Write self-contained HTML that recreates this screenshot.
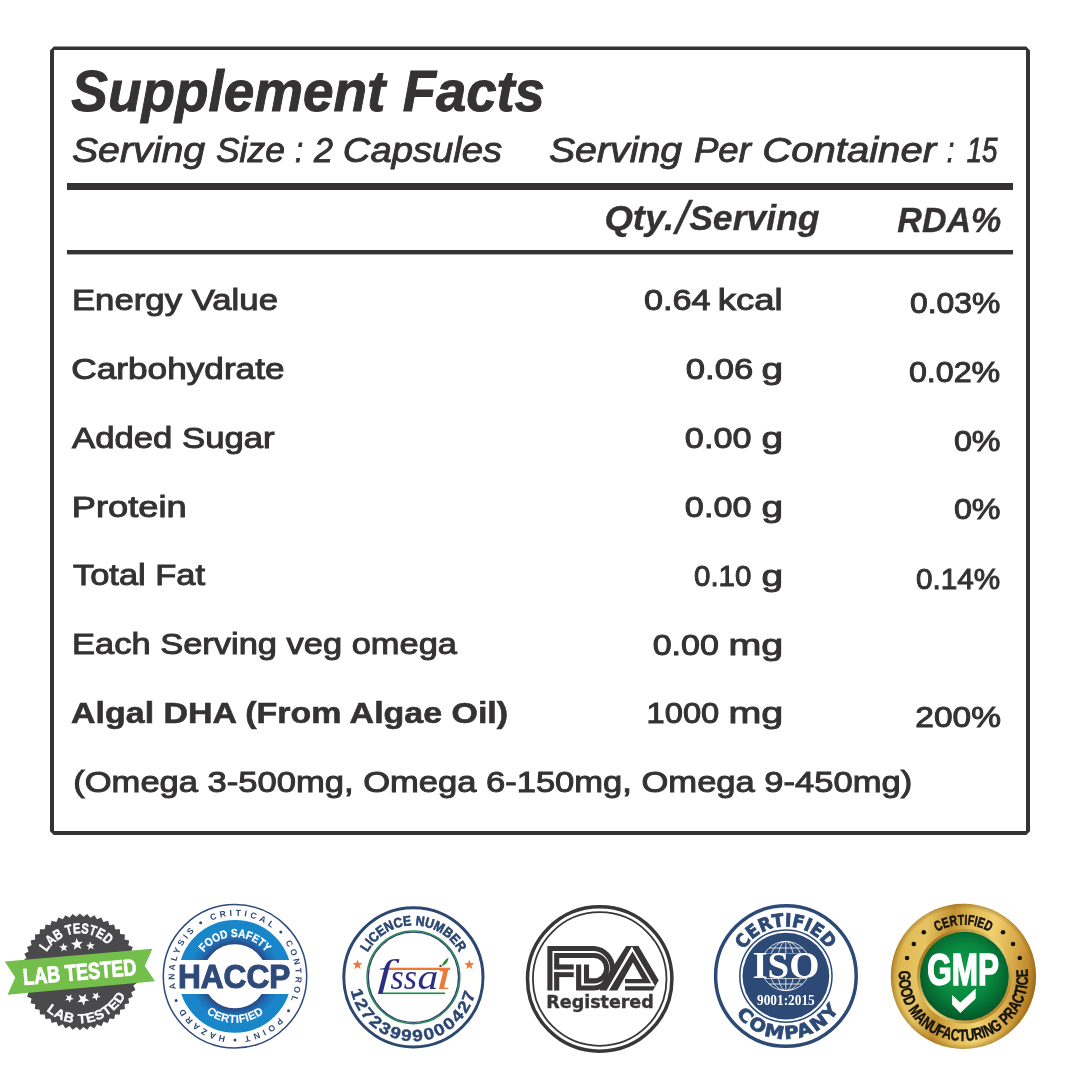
<!DOCTYPE html>
<html lang="en"><head><meta charset="utf-8"><title>Supplement Facts</title>
<style>
html,body{margin:0;padding:0;background:#fff;}
body{width:1080px;height:1080px;overflow:hidden;font-family:"Liberation Sans",sans-serif;}
svg{display:block;}
text{white-space:pre;}
</style></head><body>
<svg width="1080" height="1080" viewBox="0 0 1080 1080">
<rect width="1080" height="1080" fill="#ffffff"/>

<g id="panel">
<path fill-rule="evenodd" fill="#343233" d="M53.8,46.6 H1026.2 L1030,50.4 V831.2 L1026.2,835 H53.8 L50,831.2 V50.4 Z M54,50.1 V831 H1026 V50.1 Z"/>
<rect x="67" y="183" width="946" height="7" fill="#343233"/>
<rect x="67" y="250" width="946" height="4.4" fill="#343233"/>
<text transform="translate(71.30 111.30) scale(0.9626 1.0000)" font-family='"Liberation Sans", sans-serif' font-size="57" font-weight="bold" font-style="italic" fill="#343233" stroke="#343233" stroke-width="1.0">Supplement</text>
<text transform="translate(402.80 111.30) scale(0.9538 1.0000)" font-family='"Liberation Sans", sans-serif' font-size="57" font-weight="bold" font-style="italic" fill="#343233" stroke="#343233" stroke-width="1.0">Facts</text>
<text transform="translate(71.88 162.00) scale(1.1229 1.0000)" font-family='"Liberation Sans", sans-serif' font-size="35" font-weight="normal" font-style="italic" fill="#343233" stroke="#343233" stroke-width="0.9">Serving</text>
<text transform="translate(215.99 162.00) scale(1.0114 1.0000)" font-family='"Liberation Sans", sans-serif' font-size="35" font-weight="normal" font-style="italic" fill="#343233" stroke="#343233" stroke-width="0.9">Size</text>
<text transform="translate(294.91 162.00) scale(0.8438 1.0000)" font-family='"Liberation Sans", sans-serif' font-size="35" font-weight="normal" font-style="italic" fill="#343233" stroke="#343233" stroke-width="0.9">:</text>
<text transform="translate(313.98 162.00) scale(0.9750 1.0000)" font-family='"Liberation Sans", sans-serif' font-size="35" font-weight="normal" font-style="italic" fill="#343233" stroke="#343233" stroke-width="0.9">2</text>
<text transform="translate(342.82 162.00) scale(1.0924 1.0000)" font-family='"Liberation Sans", sans-serif' font-size="35" font-weight="normal" font-style="italic" fill="#343233" stroke="#343233" stroke-width="0.9">Capsules</text>
<text transform="translate(548.88 162.00) scale(1.1229 1.0000)" font-family='"Liberation Sans", sans-serif' font-size="35" font-weight="normal" font-style="italic" fill="#343233" stroke="#343233" stroke-width="0.9">Serving</text>
<text transform="translate(693.95 162.00) scale(1.0455 1.0000)" font-family='"Liberation Sans", sans-serif' font-size="35" font-weight="normal" font-style="italic" fill="#343233" stroke="#343233" stroke-width="0.9">Per</text>
<text transform="translate(762.21 162.00) scale(1.1457 1.0000)" font-family='"Liberation Sans", sans-serif' font-size="35" font-weight="normal" font-style="italic" fill="#343233" stroke="#343233" stroke-width="0.9">Container</text>
<text transform="translate(946.72 162.00) scale(0.7812 1.0000)" font-family='"Liberation Sans", sans-serif' font-size="35" font-weight="normal" font-style="italic" fill="#343233" stroke="#343233" stroke-width="0.9">:</text>
<text transform="translate(966.71 162.00) scale(0.7921 1.0000)" font-family='"Liberation Sans", sans-serif' font-size="35" font-weight="normal" font-style="italic" fill="#343233" stroke="#343233" stroke-width="0.9">15</text>
<text transform="translate(897.30 231.60) scale(0.9726 1.0000)" font-family='"Liberation Sans", sans-serif' font-size="35" font-weight="bold" font-style="italic" fill="#343233" stroke="#343233" stroke-width="0.3">RDA%</text>
<text transform="translate(71.93 310.00) scale(1.1586 1.0000)" font-family='"Liberation Sans", sans-serif' font-size="30" font-weight="normal" font-style="normal" fill="#343233" stroke="#343233" stroke-width="1.0">Energy Value</text>
<text transform="translate(71.33 379.00) scale(1.1736 1.0000)" font-family='"Liberation Sans", sans-serif' font-size="30" font-weight="normal" font-style="normal" fill="#343233" stroke="#343233" stroke-width="1.0">Carbohydrate</text>
<text transform="translate(72.00 448.00) scale(1.1571 1.0000)" font-family='"Liberation Sans", sans-serif' font-size="30" font-weight="normal" font-style="normal" fill="#343233" stroke="#343233" stroke-width="1.0">Added Sugar</text>
<text transform="translate(71.83 516.50) scale(1.2088 1.0000)" font-family='"Liberation Sans", sans-serif' font-size="30" font-weight="normal" font-style="normal" fill="#343233" stroke="#343233" stroke-width="1.0">Protein</text>
<text transform="translate(73.00 585.00) scale(1.1478 1.0000)" font-family='"Liberation Sans", sans-serif' font-size="30" font-weight="normal" font-style="normal" fill="#343233" stroke="#343233" stroke-width="1.0">Total Fat</text>
<text transform="translate(72.10 654.00) scale(1.1485 1.0000)" font-family='"Liberation Sans", sans-serif' font-size="30" font-weight="normal" font-style="normal" fill="#343233" stroke="#343233" stroke-width="1.0">Each Serving veg omega</text>
<text transform="translate(71.07 722.50) scale(1.1323 1.0000)" font-family='"Liberation Sans", sans-serif' font-size="30" font-weight="bold" font-style="normal" fill="#343233" stroke="#343233" stroke-width="0.6">Algal DHA (From Algae Oil)</text>
<text transform="translate(73.25 791.50) scale(1.1518 1.0000)" font-family='"Liberation Sans", sans-serif' font-size="30" font-weight="normal" font-style="normal" fill="#343233" stroke="#343233" stroke-width="1.0">(Omega 3-500mg, Omega 6-150mg, Omega 9-450mg)</text>
<text transform="translate(644.06 310.00) scale(1.1404 1.0000)" font-family='"Liberation Sans", sans-serif' font-size="30" font-weight="normal" font-style="normal" fill="#343233" stroke="#343233" stroke-width="1.0">0.64</text>
<text transform="translate(717.87 310.00) scale(1.2140 1.0000)" font-family='"Liberation Sans", sans-serif' font-size="30" font-weight="normal" font-style="normal" fill="#343233" stroke="#343233" stroke-width="1.0">kcal</text>
<text transform="translate(685.85 379.00) scale(1.1544 1.0000)" font-family='"Liberation Sans", sans-serif' font-size="30" font-weight="normal" font-style="normal" fill="#343233" stroke="#343233" stroke-width="1.0">0.06</text>
<text transform="translate(761.61 379.00) scale(1.2929 1.0000)" font-family='"Liberation Sans", sans-serif' font-size="30" font-weight="normal" font-style="normal" fill="#343233" stroke="#343233" stroke-width="1.0">g</text>
<text transform="translate(684.86 448.00) scale(1.1404 1.0000)" font-family='"Liberation Sans", sans-serif' font-size="30" font-weight="normal" font-style="normal" fill="#343233" stroke="#343233" stroke-width="1.0">0.00</text>
<text transform="translate(761.61 448.00) scale(1.2929 1.0000)" font-family='"Liberation Sans", sans-serif' font-size="30" font-weight="normal" font-style="normal" fill="#343233" stroke="#343233" stroke-width="1.0">g</text>
<text transform="translate(684.86 516.50) scale(1.1404 1.0000)" font-family='"Liberation Sans", sans-serif' font-size="30" font-weight="normal" font-style="normal" fill="#343233" stroke="#343233" stroke-width="1.0">0.00</text>
<text transform="translate(761.61 516.50) scale(1.2929 1.0000)" font-family='"Liberation Sans", sans-serif' font-size="30" font-weight="normal" font-style="normal" fill="#343233" stroke="#343233" stroke-width="1.0">g</text>
<text transform="translate(694.02 585.50) scale(0.9825 1.0000)" font-family='"Liberation Sans", sans-serif' font-size="30" font-weight="normal" font-style="normal" fill="#343233" stroke="#343233" stroke-width="1.0">0.10</text>
<text transform="translate(761.61 585.50) scale(1.2929 1.0000)" font-family='"Liberation Sans", sans-serif' font-size="30" font-weight="normal" font-style="normal" fill="#343233" stroke="#343233" stroke-width="1.0">g</text>
<text transform="translate(652.66 654.50) scale(1.1351 1.0000)" font-family='"Liberation Sans", sans-serif' font-size="30" font-weight="normal" font-style="normal" fill="#343233" stroke="#343233" stroke-width="1.0">0.00</text>
<text transform="translate(728.47 654.50) scale(1.3132 1.0000)" font-family='"Liberation Sans", sans-serif' font-size="30" font-weight="normal" font-style="normal" fill="#343233" stroke="#343233" stroke-width="1.0">mg</text>
<text transform="translate(646.62 723.00) scale(1.0891 1.0000)" font-family='"Liberation Sans", sans-serif' font-size="30" font-weight="normal" font-style="normal" fill="#343233" stroke="#343233" stroke-width="1.0">1000</text>
<text transform="translate(728.47 723.00) scale(1.3132 1.0000)" font-family='"Liberation Sans", sans-serif' font-size="30" font-weight="normal" font-style="normal" fill="#343233" stroke="#343233" stroke-width="1.0">mg</text>
<text transform="translate(909.94 312.50) scale(1.0619 1.0000)" font-family='"Liberation Sans", sans-serif' font-size="30" font-weight="normal" font-style="normal" fill="#343233" stroke="#343233" stroke-width="1.0">0.03%</text>
<text transform="translate(908.93 381.50) scale(1.0738 1.0000)" font-family='"Liberation Sans", sans-serif' font-size="30" font-weight="normal" font-style="normal" fill="#343233" stroke="#343233" stroke-width="1.0">0.02%</text>
<text transform="translate(953.92 450.50) scale(1.0762 1.0000)" font-family='"Liberation Sans", sans-serif' font-size="30" font-weight="normal" font-style="normal" fill="#343233" stroke="#343233" stroke-width="1.0">0%</text>
<text transform="translate(953.92 519.00) scale(1.0762 1.0000)" font-family='"Liberation Sans", sans-serif' font-size="30" font-weight="normal" font-style="normal" fill="#343233" stroke="#343233" stroke-width="1.0">0%</text>
<text transform="translate(916.01 588.50) scale(0.9905 1.0000)" font-family='"Liberation Sans", sans-serif' font-size="30" font-weight="normal" font-style="normal" fill="#343233" stroke="#343233" stroke-width="1.0">0.14%</text>
<text transform="translate(915.28 726.50) scale(1.1173 1.0000)" font-family='"Liberation Sans", sans-serif' font-size="30" font-weight="normal" font-style="normal" fill="#343233" stroke="#343233" stroke-width="1.0">200%</text>
<text><tspan x="604.43" y="230.30" font-family='"Liberation Sans", sans-serif' font-size="35.00" font-weight="bold" font-style="italic" fill="#343233" stroke="#343233" stroke-width="0.3" textLength="69.76" lengthAdjust="spacingAndGlyphs">Qty.</tspan><tspan x="675.81" y="234.20" font-family='"Liberation Sans", sans-serif' font-size="46.93" font-weight="normal" font-style="italic" fill="#343233" stroke="#343233" stroke-width="0.5" textLength="13.07" lengthAdjust="spacingAndGlyphs">/</tspan><tspan x="689.15" y="230.30" font-family='"Liberation Sans", sans-serif' font-size="35.00" font-weight="bold" font-style="italic" fill="#343233" stroke="#343233" stroke-width="0.3" textLength="130.44" lengthAdjust="spacingAndGlyphs">Serving</tspan></text></g>
<g id="lab"><polygon points="79.90,913.45 83.37,916.76 87.22,913.91 90.24,917.63 94.42,915.28 96.96,919.35 101.40,917.55 103.40,921.90 108.03,920.67 109.48,925.24 114.23,924.60 115.09,929.32 119.88,929.28 120.14,934.06 124.90,934.62 124.56,939.40 129.21,940.56 128.27,945.26 132.74,946.98 131.22,951.53 135.44,953.80 133.37,958.12 137.27,960.91 134.66,964.93 138.18,968.18 135.10,971.85 138.18,975.52 134.66,978.77 137.27,982.79 133.37,985.58 135.44,989.90 131.22,992.17 132.74,996.72 128.27,998.44 129.21,1003.14 124.56,1004.30 124.90,1009.08 120.14,1009.64 119.88,1014.42 115.09,1014.38 114.23,1019.10 109.48,1018.46 108.03,1023.03 103.40,1021.80 101.40,1026.15 96.96,1024.35 94.42,1028.42 90.24,1026.07 87.22,1029.79 83.37,1026.94 79.90,1030.25 76.43,1026.94 72.58,1029.79 69.56,1026.07 65.38,1028.42 62.84,1024.35 58.40,1026.15 56.40,1021.80 51.77,1023.03 50.32,1018.46 45.57,1019.10 44.71,1014.38 39.92,1014.42 39.66,1009.64 34.90,1009.08 35.24,1004.30 30.59,1003.14 31.53,998.44 27.06,996.72 28.58,992.17 24.36,989.90 26.43,985.58 22.53,982.79 25.14,978.77 21.62,975.52 24.70,971.85 21.62,968.18 25.14,964.93 22.53,960.91 26.43,958.12 24.36,953.80 28.58,951.53 27.06,946.98 31.53,945.26 30.59,940.56 35.24,939.40 34.90,934.62 39.66,934.06 39.92,929.28 44.71,929.32 45.57,924.60 50.32,925.24 51.77,920.67 56.40,921.90 58.40,917.55 62.84,919.35 65.38,915.28 69.56,917.63 72.58,913.91 76.43,916.76" fill="#4a4a4c"/><path id="ap1" d="M44.37,956.77 A38.60,38.60 0 0 1 111.13,949.16" fill="none"/><text font-family='"Liberation Sans", sans-serif' font-size="14.3" font-weight="bold" fill="#fff" stroke="#fff" stroke-width="0.45" text-anchor="middle" ><textPath href="#ap1" startOffset="50%" textLength="70.74" lengthAdjust="spacingAndGlyphs">LAB TESTED</textPath></text><path id="ap2" d="M41.11,1005.57 A51.40,51.40 0 0 0 128.50,988.58" fill="none"/><text font-family='"Liberation Sans", sans-serif' font-size="13.4" font-weight="bold" fill="#fff" stroke="#fff" stroke-width="0.3" letter-spacing="0.5" text-anchor="middle" ><textPath href="#ap2" startOffset="50%" textLength="93.30" lengthAdjust="spacingAndGlyphs">LAB TESTED</textPath></text><polygon points="63.22,942.93 64.67,945.83 67.90,945.63 65.59,947.90 66.78,950.92 63.90,949.42 61.40,951.48 61.94,948.29 59.20,946.54 62.41,946.06" fill="#fff"/><polygon points="76.44,938.03 78.42,942.01 82.86,941.74 79.69,944.85 81.32,948.98 77.38,946.93 73.95,949.76 74.68,945.38 70.94,942.99 75.33,942.33" fill="#fff"/><polygon points="90.02,941.33 91.47,944.23 94.70,944.03 92.39,946.30 93.58,949.32 90.70,947.82 88.20,949.88 88.74,946.69 86.00,944.94 89.21,944.46" fill="#fff"/><polygon points="69.94,1002.86 68.39,1000.01 65.17,1000.32 67.40,997.96 66.10,994.99 69.03,996.39 71.46,994.24 71.04,997.45 73.83,999.10 70.64,999.69" fill="#fff"/><polygon points="83.98,1005.64 81.86,1001.74 77.44,1002.16 80.49,998.94 78.72,994.87 82.73,996.78 86.06,993.84 85.48,998.24 89.30,1000.49 84.94,1001.30" fill="#fff"/><polygon points="96.64,1000.76 95.09,997.91 91.87,998.22 94.10,995.86 92.80,992.89 95.73,994.29 98.16,992.14 97.74,995.35 100.53,997.00 97.34,997.59" fill="#fff"/><polygon points="4.7,961.6 152.4,948.7 144.8,966 155,981.3 7.6,994.7 15.3,977.4" fill="#74bf4b"/><text transform="rotate(-5.1 79.9 971.8) translate(22.81 979.9) scale(0.7874 1)" font-family='"Liberation Sans", sans-serif' font-size="23" font-weight="bold" font-style="normal" fill="#fff" stroke="#fff" stroke-width="0.9">LAB TESTED</text></g>
<g id="haccp"><defs><radialGradient id="hg" gradientUnits="userSpaceOnUse" cx="235" cy="976.3" r="56.5"><stop offset="0.56" stop-color="#2a4680"/><stop offset="0.68" stop-color="#1f6db3"/><stop offset="0.82" stop-color="#1a86ca"/><stop offset="1" stop-color="#1a86ca"/></radialGradient><clipPath id="hc"><rect x="160" y="900" width="150" height="60.1"/><rect x="160" y="993.9" width="150" height="60"/></clipPath></defs><circle cx="235" cy="976.3" r="71.7" fill="#fff" stroke="#2e4a7a" stroke-width="1.5"/><g clip-path="url(#hc)"><circle cx="235" cy="976.3" r="44.2" fill="none" stroke="url(#hg)" stroke-width="24.4"/></g><text transform="translate(177.98 987.6) scale(0.9583 1)" font-family='"Liberation Sans", sans-serif' font-size="33" font-weight="bold" font-style="normal" fill="#2e4a7a" stroke="#2e4a7a" stroke-width="1.1">HACCP</text><path id="ap3" d="M200.97,956.65 A39.30,39.30 0 0 1 269.03,956.65" fill="none"/><text font-family='"Liberation Sans", sans-serif' font-size="11.5" font-weight="bold" fill="#fff" stroke="#fff" stroke-width="0.3" text-anchor="middle" ><textPath href="#ap3" startOffset="50%" textLength="71.34" lengthAdjust="spacingAndGlyphs">FOOD SAFETY</textPath></text><path id="ap4" d="M201.48,1008.67 A46.60,46.60 0 0 0 268.80,1008.38" fill="none"/><text font-family='"Liberation Sans", sans-serif' font-size="11.3" font-weight="bold" fill="#fff" stroke="#fff" stroke-width="0.15" letter-spacing="0.4" text-anchor="middle" ><textPath href="#ap4" startOffset="50%" textLength="62.22" lengthAdjust="spacingAndGlyphs">CERTIFIED</textPath></text><path id="ap5" d="M203.79,924.36 A60.60,60.60 0 0 1 277.85,933.45" fill="none"/><text font-family='"Liberation Sans", sans-serif' font-size="8.6" font-weight="bold" fill="#2e4a7a" text-anchor="middle" ><textPath href="#ap5" startOffset="50%" textLength="63.46" lengthAdjust="spacing">CRITICAL</textPath></text><path id="ap6" d="M280.03,935.75 A60.60,60.60 0 0 1 286.94,1007.51" fill="none"/><text font-family='"Liberation Sans", sans-serif' font-size="8.6" font-weight="bold" fill="#2e4a7a" text-anchor="middle" ><textPath href="#ap6" startOffset="50%" textLength="60.29" lengthAdjust="spacing">CONTROL</textPath></text><path id="ap7" d="M284.64,1011.06 A60.60,60.60 0 0 1 236.06,1036.89" fill="none"/><text font-family='"Liberation Sans", sans-serif' font-size="8.6" font-weight="bold" fill="#2e4a7a" text-anchor="middle" ><textPath href="#ap7" startOffset="50%" textLength="40.19" lengthAdjust="spacing">POINT</textPath></text><path id="ap8" d="M233.94,1036.89 A60.60,60.60 0 0 1 179.64,1000.95" fill="none"/><text font-family='"Liberation Sans", sans-serif' font-size="8.6" font-weight="bold" fill="#2e4a7a" text-anchor="middle" ><textPath href="#ap8" startOffset="50%" textLength="51.83" lengthAdjust="spacing">HAZARD</textPath></text><path id="ap9" d="M178.05,997.03 A60.60,60.60 0 0 1 201.11,926.06" fill="none"/><text font-family='"Liberation Sans", sans-serif' font-size="8.6" font-weight="bold" fill="#2e4a7a" text-anchor="middle" ><textPath href="#ap9" startOffset="50%" textLength="63.46" lengthAdjust="spacing">ANALYSIS</textPath></text><circle cx="200.68" cy="922.64" r="1.5" fill="#2e4a7a"/><circle cx="280.82" cy="932.05" r="1.5" fill="#2e4a7a"/><circle cx="288.54" cy="1010.81" r="1.5" fill="#2e4a7a"/><circle cx="235.00" cy="1040.00" r="1.5" fill="#2e4a7a"/><circle cx="176.11" cy="1000.57" r="1.5" fill="#2e4a7a"/></g>
<g id="fssai"><circle cx="413.4" cy="977.3" r="69.6" fill="#fff" stroke="#2c4770" stroke-width="3"/><circle cx="413.4" cy="977.3" r="46.4" fill="none" stroke="#1f8a4c" stroke-width="1.4"/><circle cx="413.4" cy="977.3" r="45.1" fill="none" stroke="#2c4770" stroke-width="1.3"/><path id="ap10" d="M364.69,959.09 A52.00,52.00 0 0 1 462.11,959.09" fill="none"/><text font-family='"Liberation Sans", sans-serif' font-size="13.7" font-weight="bold" fill="#2c4770" stroke="#2c4770" stroke-width="0.6" text-anchor="middle" ><textPath href="#ap10" startOffset="50%" textLength="111.63" lengthAdjust="spacingAndGlyphs">LICENCE NUMBER</textPath></text><path id="ap11" d="M349.66,981.76 A63.90,63.90 0 0 0 477.06,982.87" fill="none"/><text font-family='"Liberation Sans", sans-serif' font-size="16.2" font-weight="bold" fill="#2c4770" stroke="#2c4770" stroke-width="0.4" letter-spacing="1.5" text-anchor="middle" ><textPath href="#ap11" startOffset="50%" textLength="172.87" lengthAdjust="spacingAndGlyphs">12723999000427</textPath></text><polygon points="357.50,959.60 358.78,963.03 362.45,963.19 359.58,965.47 360.56,969.01 357.50,966.98 354.44,969.01 355.42,965.47 352.55,963.19 356.22,963.03" fill="#ee7838"/><polygon points="469.30,959.60 470.58,963.03 474.25,963.19 471.38,965.47 472.36,969.01 469.30,966.98 466.24,969.01 467.22,965.47 464.35,963.19 468.02,963.03" fill="#ee7838"/><rect x="381.7" y="992.5" width="63.4" height="1.6" fill="#1f8a4c"/><text><tspan x="377.26" y="985.54" font-family='"Liberation Serif", serif' font-size="37.13" font-weight="normal" font-style="italic" fill="#2b2e83" textLength="15.73" lengthAdjust="spacingAndGlyphs">f</tspan><tspan x="390.43" y="989.16" font-family='"Liberation Serif", serif' font-size="35.27" font-weight="normal" font-style="italic" fill="#2b2e83" textLength="26.43" lengthAdjust="spacingAndGlyphs">ss</tspan><tspan x="417.55" y="989.16" font-family='"Liberation Serif", serif' font-size="35.27" font-weight="normal" font-style="italic" fill="#2b2e83" textLength="20.79" lengthAdjust="spacingAndGlyphs">a</tspan><tspan x="435.80" y="989.40" font-family='"Liberation Serif", serif' font-size="39.27" font-weight="normal" font-style="italic" fill="#ee7838" textLength="16.01" lengthAdjust="spacingAndGlyphs">i</tspan></text><rect x="436.5" y="955" width="15" height="13.5" fill="#fff"/><rect x="389" y="967.7" width="61.2" height="2.3" fill="#ee7838"/><path d="M441.9,966 C442.6,962.6 445.2,959.4 448.4,957.4 C448.3,961.2 446.2,964.6 441.9,966 Z" fill="#2e8b3d"/><circle cx="440.5" cy="965.9" r="1.2" fill="#7a3b1d"/></g>
<g id="fda"><circle cx="599.7" cy="979" r="72.2" fill="#fff" stroke="#393637" stroke-width="3.5"/><circle cx="599.7" cy="979" r="66.8" fill="none" stroke="#393637" stroke-width="1.8"/><path d="M549.9,990.6 V948.55 H594 A19.8,19.8 0 0 1 594,988.05 H578.65 V964.4" fill="none" stroke="#393637" stroke-width="5.1" stroke-miterlimit="10"/><path d="M556.7,969.5 V955.5 H594 A12.7,12.7 0 0 1 594,980.9 H586.5 V964.4" fill="none" stroke="#393637" stroke-width="5.1" stroke-miterlimit="10"/><rect x="556.7" y="964.4" width="17" height="5.1" fill="#393637"/><rect x="554.15" y="972.2" width="19.55" height="4.9" fill="#393637"/><rect x="554.15" y="972.2" width="5.1" height="18.4" fill="#393637"/><polygon points="626.2,946 638.5,946 658.7,980.3 653,990.6 625,990.6 625,986.3 655.2,986.3 632.6,948 631.9,946.8 606.8,990.6 600,990.6 600,985 615,963.5" fill="#393637"/><polygon points="631.9,946.8 633.2,949.2 610.0,990.8 606.6,990.8" fill="#fff"/><polygon points="632.5,951.4 651.2,983.3 625,983.3 625,979.1 642.3,979.1 633,962.6 617.3,990.6 608.9,990.6" fill="#393637"/><text transform="translate(546.31 1008.4) scale(0.9943 1)" font-family='"DejaVu Sans", sans-serif' font-size="17.6" font-weight="bold" font-style="normal" fill="#393637" stroke="#393637" stroke-width="0.4">Registered</text></g>
<g id="iso"><circle cx="785.9" cy="976.05" r="70.3" fill="#fff" stroke="#2d4a77" stroke-width="3.5"/><circle cx="785.9" cy="976.05" r="46.1" fill="none" stroke="#2d4a77" stroke-width="1.5"/><circle cx="785.9" cy="976.05" r="43.4" fill="#2d4a77"/><path id="ap12" d="M740.59,955.88 A49.60,49.60 0 0 1 831.03,955.48" fill="none"/><text font-family='"DejaVu Sans", sans-serif' font-size="18" font-weight="bold" fill="#2d4a77" stroke="#2d4a77" stroke-width="0.8" text-anchor="middle" ><textPath href="#ap12" startOffset="50%" textLength="99.99" lengthAdjust="spacingAndGlyphs">CERTIFIED</textPath></text><path id="ap13" d="M731.24,1006.97 A62.80,62.80 0 0 0 843.71,1000.59" fill="none"/><text font-family='"DejaVu Sans", sans-serif' font-size="17.8" font-weight="bold" fill="#2d4a77" stroke="#2d4a77" stroke-width="0.7" letter-spacing="1.5" text-anchor="middle" ><textPath href="#ap13" startOffset="50%" textLength="122.21" lengthAdjust="spacingAndGlyphs">COMPANY</textPath></text><g fill="none" stroke="#fff" stroke-width="0.8"><circle cx="785.8" cy="966.0" r="24.6"/><ellipse cx="785.8" cy="966.0" rx="8.5" ry="24.6"/><ellipse cx="785.8" cy="966.0" rx="17" ry="24.6"/><line x1="785.8" y1="941.4" x2="785.8" y2="990.6"/><line x1="769.03" y1="948.0" x2="802.57" y2="948.0"/><line x1="764.61" y1="953.5" x2="806.99" y2="953.5"/><line x1="764.61" y1="978.5" x2="806.99" y2="978.5"/><line x1="769.03" y1="984.0" x2="802.57" y2="984.0"/></g><rect x="752" y="953.5" width="68" height="24.6" fill="#2d4a77"/><text transform="translate(752.48 978.1) scale(1.0238 1)" font-family='"Liberation Serif", serif' font-size="38" font-weight="bold" font-style="normal" fill="#fff">ISO</text><text transform="translate(757.00 1004.6) scale(0.9517 1)" font-family='"Liberation Serif", serif' font-size="14" font-weight="bold" font-style="normal" fill="#fff">9001:2015</text></g>
<g id="gmp"><defs><linearGradient id="gg" gradientUnits="userSpaceOnUse" x1="891.4" y1="964.6" x2="1035.4" y2="988.2"><stop offset="0" stop-color="#c79a3a"/><stop offset="0.07" stop-color="#e0bb55"/><stop offset="0.2" stop-color="#e6c463"/><stop offset="0.36" stop-color="#c1902f"/><stop offset="0.5" stop-color="#e2bd58"/><stop offset="0.65" stop-color="#f0d070"/><stop offset="0.81" stop-color="#d9ad4b"/><stop offset="0.95" stop-color="#b98428"/><stop offset="1" stop-color="#a87620"/></linearGradient><radialGradient id="ge" cx="0.5" cy="0.5" r="0.5"><stop offset="0.93" stop-color="#8a5a10" stop-opacity="0"/><stop offset="1" stop-color="#8a5a10" stop-opacity="0.45"/></radialGradient><linearGradient id="gb" x1="0.15" y1="0.15" x2="0.85" y2="0.85"><stop offset="0" stop-color="#a87820"/><stop offset="0.5" stop-color="#f0d37c"/><stop offset="1" stop-color="#b78628"/></linearGradient><radialGradient id="gn" cx="0.5" cy="0.45" r="0.55"><stop offset="0" stop-color="#0f9e4c"/><stop offset="0.55" stop-color="#08883f"/><stop offset="1" stop-color="#035629"/></radialGradient></defs><circle cx="963.4" cy="976.4" r="72.6" fill="url(#gg)"/><circle cx="963.4" cy="976.4" r="72.6" fill="url(#ge)"/><circle cx="964.4" cy="976.1999999999999" r="47.4" fill="url(#gb)"/><circle cx="964.4" cy="976.1999999999999" r="44.4" fill="url(#gn)"/><text transform="translate(927.29 985.2) scale(0.7080 1)" font-family='"Liberation Sans", sans-serif' font-size="44.5" font-weight="bold" font-style="normal" fill="#fff" stroke="#fff" stroke-width="1.6">GMP</text><polygon points="952.1,995.1 960.3,1002.5 975.7,988.4 975.7,998.6 960.3,1013.1 952.1,1004.6" fill="#fff"/><path id="ap14" d="M931.28,936.02 A51.60,51.60 0 0 1 995.52,936.02" fill="none"/><text font-family='"Liberation Sans", sans-serif' font-size="14.3" font-weight="bold" fill="#141210" stroke="#141210" stroke-width="0.5" text-anchor="middle" ><textPath href="#ap14" startOffset="50%" textLength="54.94" lengthAdjust="spacingAndGlyphs">CERTIFIED</textPath></text><path id="ap15" d="M900.46,961.87 A64.60,64.60 0 1 0 1025.94,960.23" fill="none"/><text font-family='"Liberation Sans", sans-serif' font-size="16.5" font-weight="bold" fill="#141210" stroke="#141210" stroke-width="0.4" text-anchor="middle" ><textPath href="#ap15" startOffset="50%" textLength="215.91" lengthAdjust="spacingAndGlyphs">GOOD MANUFACTURING PRACTICE</textPath></text><circle cx="923.80" cy="932.26" r="2.3" fill="#141210"/><circle cx="1003.00" cy="932.26" r="2.3" fill="#141210"/><circle cx="913.78" cy="943.93" r="2.3" fill="#141210"/><circle cx="1013.02" cy="943.93" r="2.3" fill="#141210"/><circle cx="907.03" cy="957.98" r="2.3" fill="#141210"/><circle cx="1019.77" cy="957.98" r="2.3" fill="#141210"/></g>
</svg>
</body></html>
